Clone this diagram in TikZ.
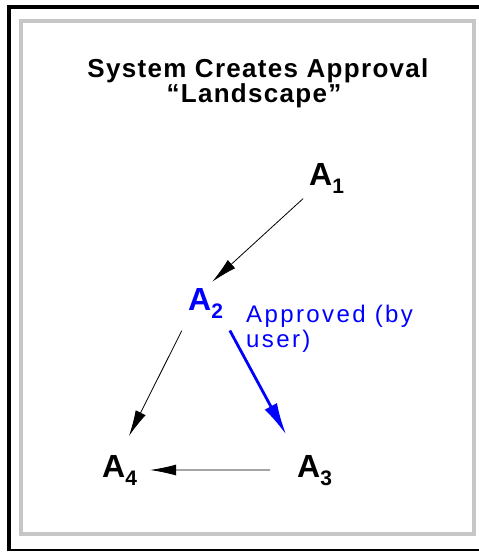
\documentclass[tikz,border=0pt]{standalone}
\usepackage{fontspec}
\setmainfont{Liberation Sans}
\newfontfamily\spacedfont[LetterSpace=5]{Liberation Sans}
\newfontfamily\widefont[LetterSpace=10]{Liberation Sans}
\usetikzlibrary{arrows.meta}
\colorlet{ApprBlue}{blue}
\newcommand{\Asub}[1]{A\raisebox{-8pt}{\fontsize{21}{21}\selectfont #1}}

\begin{document}
\begin{tikzpicture}[x=1pt, y=-1pt,
    titletext/.style={anchor=base, inner sep=0pt, font=\spacedfont\bfseries\fontsize{26}{26}\selectfont},
    anode/.style={anchor=base west, inner sep=0pt, font=\bfseries\fontsize{32}{32}\selectfont},
    lbltext/.style={anchor=base west, inner sep=0pt, ApprBlue, font=\widefont\fontsize{24}{24}\selectfont},
    link/.style={-{Latex[length=26pt, width=11pt]}, line width=0.8pt}]
  \useasboundingbox (0,0) rectangle (479,552);
  % frame
  \draw[line width=4pt] (9,551) -- (9,7) -- (479,7);
  \draw[line width=2pt] (8,550) -- (479,550);
  \draw[gray!45, line width=4.5pt] (21,21) rectangle (474,534);
  % title
  \node[titletext] (title) at (258,77) {System Creates Approval};
  \node[titletext] (titleb) at (254,102) {“Landscape”};
  % approvals
  \node[anode] (a1) at (309,185) {\Asub{1}};
  \node[anode, ApprBlue] (a2) at (188,310) {\Asub{2}};
  \node[anode] (a3) at (297,477) {\Asub{3}};
  \node[anode] (a4) at (102,477) {\Asub{4}};
  \node[lbltext] (lbl) at (246,322) {Approved (by};
  \node[lbltext] (lblb) at (246,347) {user)};
  % links
  \draw[link, shorten <=8pt, shorten >=9pt] (a1.south west) -- (a2.north);
  \draw[link, shorten <=14pt, shorten >=21pt] (a2.south west) -- (a4.north);
  \draw[link, ApprBlue, line width=2.8pt, -{Latex[length=32pt, width=14pt]}, shorten <=14pt, shorten >=23pt] (a2.south east) -- (a3.north west);
  \draw[link, shorten <=27pt, shorten >=13pt] (a3.west) -- (a4.east);
\end{tikzpicture}
\end{document}
